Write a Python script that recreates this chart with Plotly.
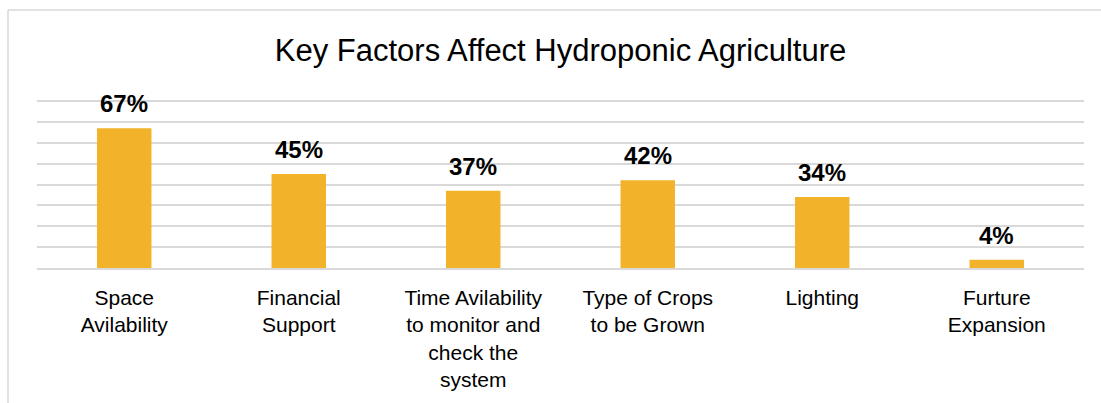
import plotly.graph_objects as go

# Survey results: share of respondents naming each factor
categories = [
    "Space Avilability",
    "Financial Support",
    "Time Avilability to monitor and check the system",
    "Type of Crops to be Grown",
    "Lighting",
    "Furture Expansion",
]
tick_labels = [
    "Space<br>Avilability",
    "Financial<br>Support",
    "Time Avilability<br>to monitor and<br>check the<br>system",
    "Type of Crops<br>to be Grown",
    "Lighting",
    "Furture<br>Expansion",
]
values = [67, 45, 37, 42, 34, 4]

BAR_COLOR = "#F2B22A"
GRID_COLOR = "#D9D9D9"
FONT = "Liberation Sans, Arial, sans-serif"

fig = go.Figure(
    go.Bar(
        x=categories,
        y=values,
        marker=dict(color=BAR_COLOR, line=dict(width=0)),
        hoverinfo="x+y",
    )
)

# Value labels above each bar
for cat, v in zip(categories, values):
    fig.add_annotation(
        x=cat, y=v, text=f"<b>{v}%</b>", showarrow=False,
        yanchor="bottom", yshift=9,
        font=dict(family=FONT, size=24, color="#000000"),
    )

# Chart frame (left and top edges visible)
fig.add_shape(type="line", xref="paper", yref="paper",
              x0=-0.0277, x1=1.05, y0=1.527, y1=1.527,
              line=dict(color=GRID_COLOR, width=1.5))
fig.add_shape(type="line", xref="paper", yref="paper",
              x0=-0.0277, x1=-0.0277, y0=1.527, y1=-0.9,
              line=dict(color=GRID_COLOR, width=1.5))

fig.update_layout(
    width=1101, height=403,
    margin=dict(l=37, r=17, t=99, b=135),
    paper_bgcolor="white", plot_bgcolor="white",
    bargap=0.688,
    showlegend=False,
    title=dict(
        text="Key Factors Affect Hydroponic Agriculture",
        x=0.5, xref="paper", xanchor="center",
        y=0.875, yref="container", yanchor="middle",
        font=dict(family=FONT, size=31, color="#000000"),
    ),
    font=dict(family=FONT),
)
fig.update_xaxes(
    tickmode="array", tickvals=categories, ticktext=tick_labels,
    tickfont=dict(family=FONT, size=21, color="#000000"),
    ticklabelstandoff=10,
    showline=True, linecolor=GRID_COLOR, linewidth=1.5,
    ticks="", showgrid=False, fixedrange=True,
)
fig.update_yaxes(
    range=[0, 81], tickmode="array", tickvals=[10, 20, 30, 40, 50, 60, 70, 80],
    showticklabels=False,
    showgrid=True, gridcolor=GRID_COLOR, gridwidth=1.5,
    zeroline=False, fixedrange=True,
)

fig.write_html("out.html")
